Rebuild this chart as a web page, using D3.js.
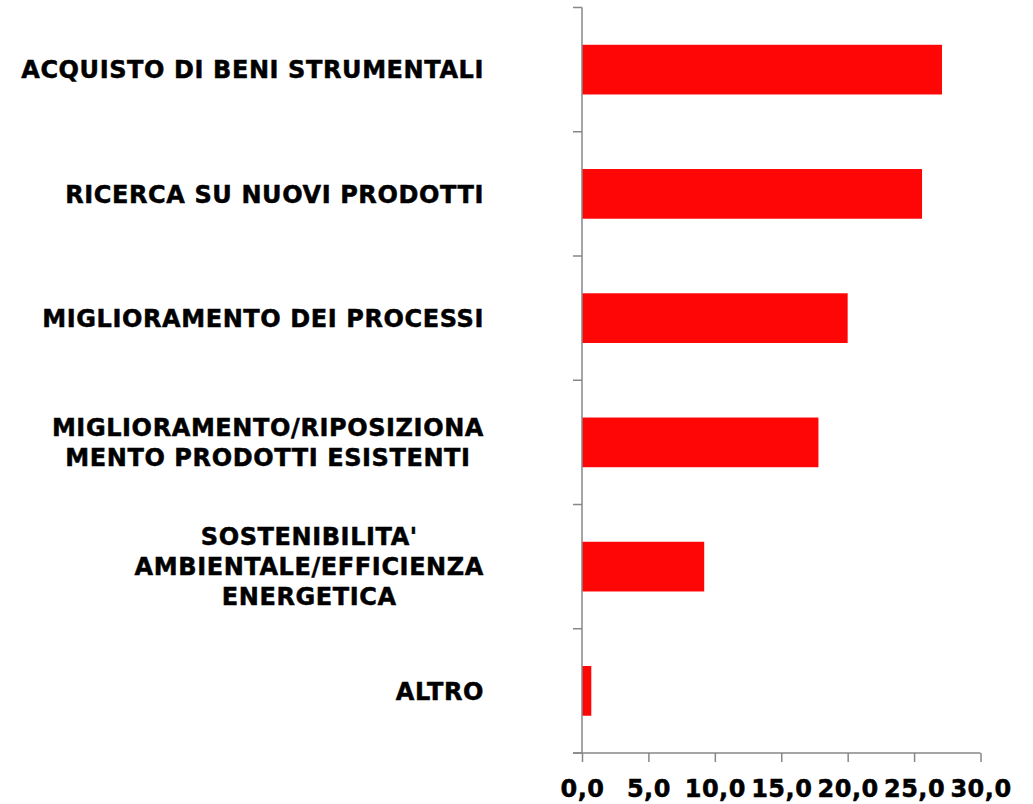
<!DOCTYPE html>
<html>
<head>
<meta charset="utf-8">
<script src="https://cdn.jsdelivr.net/npm/d3@7"></script>
<style>
  body { margin: 0; background: #fff; }
  svg text { font-family: "DejaVu Sans", Verdana, sans-serif; font-weight: bold; fill: #000; stroke: #000; stroke-width: 0.5px; }
  .axis path, .axis line { stroke: #878787; stroke-width: 1.5; }
</style>
</head>
<body>
<svg id="chart" width="1033" height="804"></svg>
<script>
'use strict';

// categories, top to bottom (label lines)
var categories = [
  ['ACQUISTO DI BENI STRUMENTALI'],
  ['RICERCA SU NUOVI PRODOTTI'],
  ['MIGLIORAMENTO DEI PROCESSI'],
  ['MIGLIORAMENTO/RIPOSIZIONA', 'MENTO PRODOTTI ESISTENTI'],
  ["SOSTENIBILITA'", 'AMBIENTALE/EFFICIENZA', 'ENERGETICA'],
  ['ALTRO']
];
var values = [27.1, 25.6, 20.0, 17.8, 9.2, 0.7];
var xTicks = [0, 5, 10, 15, 20, 25, 30];

var margin = { left: 582, top: 7.5, right: 52, bottom: 51 };

var svg = d3.select('#chart');

var x = d3.scaleLinear()
  .domain([0, 30])
  .range([margin.left, 980.5]);

var y = d3.scaleBand()
  .domain(d3.range(categories.length))
  .range([margin.top, 753])
  .paddingInner(0.6)
  .paddingOuter(0.3);

var fmt = function(d) { return d3.format('.1f')(d).replace('.', ','); };

// bars
svg.append('g').selectAll('rect')
  .data(values)
  .enter().append('rect')
    .attr('x', x(0))
    .attr('y', function(d, i) { return y(i); })
    .attr('width', function(d) { return x(d) - x(0); })
    .attr('height', y.bandwidth())
    .attr('fill', '#ff0606');

// y axis line with ticks between categories
var gy = svg.append('g').attr('class', 'axis');
gy.append('line')
  .attr('x1', x(0)).attr('x2', x(0))
  .attr('y1', margin.top).attr('y2', 753);
gy.selectAll('line.tk')
  .data(d3.range(categories.length + 1))
  .enter().append('line')
    .attr('class', 'tk')
    .attr('x1', x(0) - 9).attr('x2', x(0))
    .attr('y1', function(i) { return margin.top + i * y.step() / (1 - 0) ; })
    .attr('y2', function(i) { return margin.top + i * y.step(); });

// x axis
var gx = svg.append('g')
  .attr('class', 'axis')
  .attr('transform', 'translate(0,753)')
  .call(d3.axisBottom(x).tickValues(xTicks).tickFormat(fmt).tickSize(9).tickSizeOuter(0));
gx.select('.domain').attr('d', 'M' + (x(0) - 9) + ',0H' + x(30));
gx.selectAll('text')
  .attr('dy', null)
  .attr('y', 44)
  .style('font-size', '24px')
  .style('font-family', '"DejaVu Sans", Verdana, sans-serif')
  .style('font-weight', 'bold')
  .style('letter-spacing', '0.5px')
  .attr('fill', '#000');

// category labels: block right-aligned, lines centred inside block
var labelRight = 484, lineH = 30;
var gl = svg.append('g');
categories.forEach(function(lines, i) {
  var cy = y(i) + y.bandwidth() / 2;
  var g = gl.append('g');
  var texts = lines.map(function(t, j) {
    return g.append('text')
      .attr('font-size', 24)
      .style('letter-spacing', '0.6px')
      .attr('y', cy + (j - (lines.length - 1) / 2) * lineH)
      .attr('dy', '0.36em')
      .text(t);
  });
  var maxW = d3.max(texts, function(t) { return t.node().getComputedTextLength(); });
  texts.forEach(function(t) {
    t.attr('x', labelRight - maxW / 2).attr('text-anchor', 'middle');
  });
});
</script>
</body>
</html>
